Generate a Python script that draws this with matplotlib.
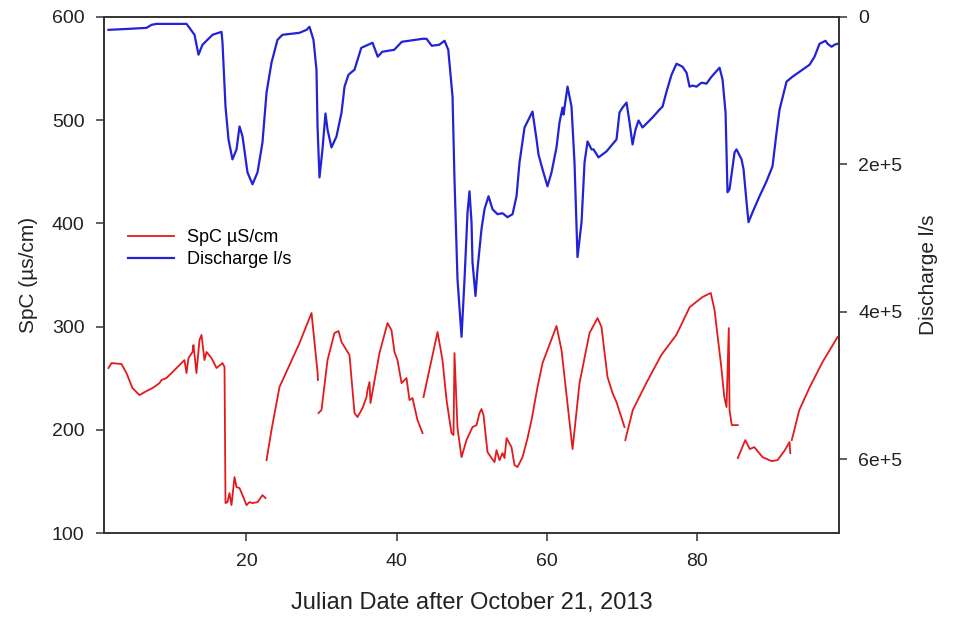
import numpy as np
import matplotlib
matplotlib.use('Agg')
import matplotlib.pyplot as plt
from matplotlib.lines import Line2D

plt.rcParams['font.family'] = ['Liberation Sans', 'DejaVu Sans']

nan = np.nan

# discharge (l/s), days after Oct 21 2013
q_day = [1.6, 4.4, 6.67, 7.33, 8.0, 12.0, 12.4, 13.07, 13.6, 14.13, 15.47, 16.67, 16.8, 17.2,
         17.6, 18.13, 18.67, 19.07, 19.47, 20.13, 20.8, 21.47, 22.13, 22.67, 23.33, 24.13,
         24.8, 27.07, 28.0, 28.4, 28.93, 29.33, 29.47, 29.73, 30.13, 30.53, 30.8, 31.33,
         32.0, 32.67, 33.07, 33.6, 34.4, 35.3, 36.8, 37.5, 38.1, 39.7, 40.7, 43.5, 44.0,
         44.7, 45.7, 46.4, 46.9, 47.47, 47.73, 48.13, 48.67, 49.07, 49.47, 49.73, 50.0,
         50.13, 50.53, 50.8, 51.33, 51.73, 52.27, 52.8, 53.47, 54.13, 54.8, 55.47, 56.0,
         56.4, 57.07, 58.13, 58.67, 58.93, 59.47, 60.13, 60.67, 61.33, 61.73, 62.13, 62.27,
         62.8, 63.33, 63.73, 64.13, 64.67, 65.07, 65.47, 66.0, 66.27, 66.93, 68.0, 69.33,
         69.73, 70.13, 70.67, 71.07, 71.47, 71.87, 72.27, 72.8, 74.13, 75.07, 75.47, 76.0,
         76.67, 77.33, 78.13, 78.67, 79.07, 79.47, 80.0, 80.67, 81.33, 82.0, 83.07, 83.47,
         83.87, 84.13, 84.4, 85.07, 85.33, 86.0, 86.27, 86.67, 86.93, 87.47, 88.4, 89.33,
         90.13, 90.67, 91.07, 92.0, 92.8, 95.07, 95.73, 96.4, 97.2, 97.47, 98.0, 98.4, 98.8]
q_val = [17600, 16200, 14900, 10800, 9500, 9500, 14900, 24300, 51300, 37800, 24300, 20300,
         35100, 121600, 166200, 193200, 179700, 148600, 162100, 210800, 227000, 210800,
         170300, 102700, 62200, 31100, 24300, 21600, 17600, 13500, 31100, 71600, 148600,
         217600, 179700, 131000, 152700, 177000, 162100, 129700, 94600, 78400, 71600, 42000,
         35100, 54000, 47300, 44600, 33800, 29700, 29700, 39200, 37800, 32400, 44600,
         108100, 220300, 355400, 433800, 355400, 264900, 236500, 278400, 332400, 378400,
         341900, 287800, 260800, 243200, 260800, 267600, 266200, 271600, 267600, 243200,
         197300, 150000, 128400, 166200, 186500, 206800, 229700, 210800, 177000, 143200,
         123000, 132400, 94600, 121600, 197300, 325700, 278400, 197300, 168900, 179700,
         179700, 190500, 182400, 166200, 129700, 123000, 116200, 143200, 173000, 152700,
         140500, 150000, 136500, 125700, 121600, 101400, 78400, 63500, 67600, 75700, 94600,
         93200, 94600, 89200, 90500, 81100, 68900, 85100, 129700, 237800, 233800, 183800,
         179700, 193200, 206800, 251400, 278400, 264900, 243200, 223000, 202700, 156700,
         125700, 87800, 81100, 64900, 54100, 36500, 32400, 36500, 40500, 37800, 36500]

# specific conductance (uS/cm); nan marks gaps in the record
spc_day = [1.6, 2.0, 3.33, 4.0, 4.8, 5.73, 6.67, 7.47, 8.4, 8.67, 9.33, 10.0, 11.07, 11.73,
           12.0, 12.27, 12.8, 12.93, 13.33, 13.73, 14.0, 14.4, 14.67, 15.33, 16.0, 16.8,
           17.07, 17.2, 17.47, 17.73, 18.0, 18.4, 18.67, 19.07, 19.47, 20.0, 20.4, 20.8,
           21.47, 22.13, 22.53, nan,
           22.67, 23.33, 24.4, 25.73, 27.07, 28.67, 29.07, 29.47, 29.53, nan,
           29.6, 30.0, 30.8, 31.73, 32.27, 32.67, 33.33, 33.73, 34.4, 34.8, 35.47, 36.0,
           36.13, 36.4, 36.53, 37.73, 38.8, 39.33, 39.73, 40.13, 40.67, 41.33, 41.73, 42.13,
           42.8, 43.47, nan,
           43.6, 45.47, 46.13, 46.67, 47.33, 47.6, 47.73, 48.13, 48.67, 49.33, 50.13, 50.67,
           51.07, 51.33, 51.6, 52.13, 52.67, 53.07, 53.33, 53.73, 54.13, 54.4, 54.67, 55.33,
           55.73, 56.13, 56.8, 57.47, 58.0, 58.8, 59.47, 61.33, 62.0, 63.47, 64.4, 65.73,
           66.8, 67.33, 68.13, 68.8, 69.33, 70.4, nan,
           70.5, 71.5, 73.3, 75.3, 77.3, 79.1, 80.8, 81.9, 82.4, 83.3, 83.7, 84.0, 84.3, 84.4,
           84.7, 85.5, nan,
           85.5, 86.5, 87.1, 87.7, 88.8, 90.0, 90.8, 91.7, 92.4, 92.5, nan,
           92.7, 93.7, 95.1, 96.8, 98.8]
spc_val = [259.9, 264.7, 263.8, 255.0, 240.5, 233.7, 237.6, 240.5, 245.3, 248.3, 250.2,
           255.0, 262.8, 267.6, 255.0, 269.6, 275.4, 282.2, 255.0, 287.0, 291.9, 267.6,
           275.4, 269.6, 259.9, 264.7, 260.9, 129.1, 130.0, 138.8, 127.1, 154.3, 144.6,
           143.6, 136.8, 127.1, 130.0, 129.1, 130.0, 136.8, 134.0, nan,
           170.7, 199.8, 241.5, 262.8, 284.1, 313.2, 284.1, 256.0, 248.3, nan,
           216.3, 219.2, 267.6, 293.8, 295.7, 285.1, 277.3, 272.5, 216.3, 212.4, 221.1,
           231.8, 238.6, 246.3, 226.0, 274.4, 303.5, 296.7, 275.4, 267.6, 245.3, 250.2,
           228.9, 230.8, 209.5, 196.9, nan,
           231.8, 294.8, 267.6, 228.9, 196.9, 195.0, 274.4, 201.7, 173.6, 190.1, 202.7,
           204.6, 216.3, 220.2, 214.3, 178.5, 172.7, 168.8, 180.4, 170.7, 177.5, 172.7,
           192.0, 183.3, 165.9, 164.0, 173.6, 192.0, 209.5, 241.5, 264.7, 300.6, 277.3,
           181.4, 245.3, 293.8, 308.3, 299.6, 251.2, 235.7, 226.9, 202.7, nan,
           190.1, 219.2, 245.3, 272.5, 291.9, 319.0, 328.7, 332.6, 316.1, 260.9, 231.8,
           222.1, 298.6, 219.2, 204.6, 204.6, nan,
           172.7, 190.1, 181.4, 183.3, 173.6, 169.8, 170.7, 179.5, 188.2, 177.5, nan,
           190.1, 219.2, 241.5, 265.7, 289.9]

fig = plt.figure(figsize=(9.54, 6.25), dpi=100)
ax = fig.add_axes([0.109, 0.147, 0.7705, 0.826])
ax2 = ax.twinx()

red = '#e31a1c'
blue = '#2222d6'
ax.plot(spc_day, spc_val, color=red, lw=1.3)
ax2.plot(q_day, q_val, color=blue, lw=1.6)

ax.set_xlim(1, 99)
ax.set_ylim(100, 600)
ax.set_yticks([100, 200, 300, 400, 500, 600])
ax.set_xticks([20, 40, 60, 80])
ax2.set_ylim(700000, 0)
ax2.set_yticks([0, 200000, 400000, 600000])
ax2.set_yticklabels(['0', '2e+5', '4e+5', '6e+5'])

for a in (ax, ax2):
    for s in a.spines.values():
        s.set_linewidth(1.2)
        s.set_color('#333333')
    a.tick_params(direction='out', length=6, width=1.1, color='#333333',
                  labelsize=14, labelcolor='#222222', pad=8)

ax.set_xlabel('Julian Date after October 21, 2013', fontsize=17, color='#222222', labelpad=16)
ax.set_ylabel('SpC (µs/cm)', fontsize=15, color='#222222', labelpad=10)
ax2.set_ylabel('Discharge l/s', fontsize=15, color='#222222', labelpad=12)

handles = [Line2D([], [], color=red, lw=1.3), Line2D([], [], color=blue, lw=1.6)]
ax.legend(handles, ['SpC µS/cm', 'Discharge l/s'], loc='upper left',
          bbox_to_anchor=(0.125, 0.648), bbox_transform=fig.transFigure,
          frameon=False, fontsize=13, handlelength=2.55, handletextpad=0.7,
          labelspacing=0.3, borderpad=0)

fig.savefig('out.png', dpi=100, facecolor='white')
